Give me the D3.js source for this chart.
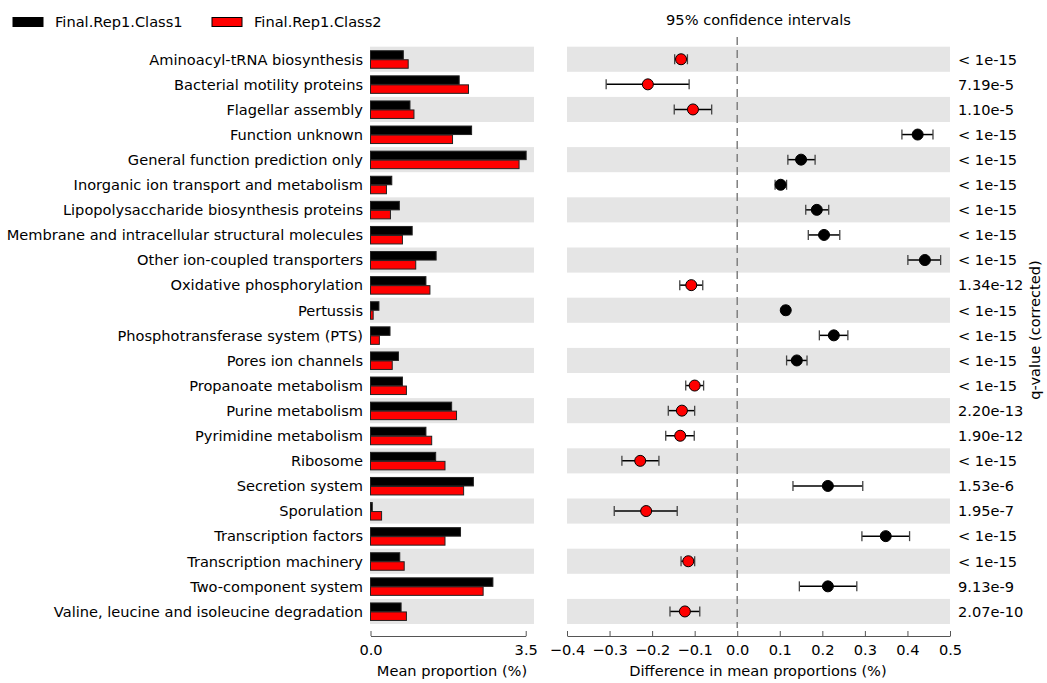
<!DOCTYPE html>
<html>
<head>
<meta charset="utf-8">
<script src="https://cdn.jsdelivr.net/npm/d3@7"></script>
<style>
  html, body { margin: 0; padding: 0; background: #fff; }
  svg { display: block; font-family: "DejaVu Sans", sans-serif; }
</style>
</head>
<body>
<svg id="chart" width="1047" height="683"></svg>
<script>
// Functional categories (rows, top to bottom)
const categories = [
  "Aminoacyl-tRNA biosynthesis",
  "Bacterial motility proteins",
  "Flagellar assembly",
  "Function unknown",
  "General function prediction only",
  "Inorganic ion transport and metabolism",
  "Lipopolysaccharide biosynthesis proteins",
  "Membrane and intracellular structural molecules",
  "Other ion-coupled transporters",
  "Oxidative phosphorylation",
  "Pertussis",
  "Phosphotransferase system (PTS)",
  "Pores ion channels",
  "Propanoate metabolism",
  "Purine metabolism",
  "Pyrimidine metabolism",
  "Ribosome",
  "Secretion system",
  "Sporulation",
  "Transcription factors",
  "Transcription machinery",
  "Two-component system",
  "Valine, leucine and isoleucine degradation"
];

// Mean proportion (%) per group
const class1Mean = [0.74, 2.00, 0.89, 2.28, 3.51, 0.48, 0.65, 0.94, 1.48, 1.25, 0.19, 0.44,
                    0.63, 0.72, 1.83, 1.25, 1.47, 2.32, 0.04, 2.03, 0.66, 2.76, 0.69];
const class2Mean = [0.85, 2.21, 0.98, 1.85, 3.35, 0.36, 0.45, 0.72, 1.02, 1.34, 0.06, 0.20,
                    0.49, 0.81, 1.94, 1.38, 1.68, 2.10, 0.25, 1.68, 0.76, 2.54, 0.81];

// Difference in mean proportions (%) with 95% confidence interval
const meanDiff = [-0.132, -0.210, -0.104, 0.424, 0.150, 0.102, 0.187, 0.204, 0.441, -0.108, 0.114, 0.227,
                  0.140, -0.100, -0.130, -0.134, -0.228, 0.213, -0.214, 0.349, -0.115, 0.213, -0.123];
const ciLower  = [-0.147, -0.308, -0.148, 0.387, 0.119, 0.089, 0.161, 0.167, 0.401, -0.135, 0.108, 0.193,
                  0.116, -0.121, -0.162, -0.168, -0.271, 0.131, -0.289, 0.293, -0.132, 0.146, -0.158];
const ciUpper  = [-0.117, -0.113, -0.060, 0.460, 0.183, 0.116, 0.215, 0.241, 0.478, -0.081, 0.121, 0.260,
                  0.164, -0.079, -0.100, -0.101, -0.184, 0.295, -0.141, 0.405, -0.100, 0.281, -0.088];

// Corrected q-values
const qValues = ["< 1e-15", "7.19e-5", "1.10e-5", "< 1e-15", "< 1e-15", "< 1e-15", "< 1e-15", "< 1e-15",
                 "< 1e-15", "1.34e-12", "< 1e-15", "< 1e-15", "< 1e-15", "< 1e-15", "2.20e-13", "1.90e-12",
                 "< 1e-15", "1.53e-6", "1.95e-7", "< 1e-15", "< 1e-15", "9.13e-9", "2.07e-10"];

const groupNames = ["Final.Rep1.Class1", "Final.Rep1.Class2"];
const propTicks = [0, 3.5];
const diffTicks = [-0.4, -0.3, -0.2, -0.1, 0.0, 0.1, 0.2, 0.3, 0.4, 0.5];

const svg = d3.select("#chart");
const FS = 14.6;
const colC1 = "#000000", colC2 = "#ff0000", band = "#e5e5e5";

const rows = categories.map((c, i) => ({
  name: c, c1: class1Mean[i], c2: class2Mean[i],
  diff: meanDiff[i], lo: ciLower[i], hi: ciUpper[i], q: qValues[i], i
}));

// Scales
const y = d3.scaleBand().domain(categories).range([46.7, 624]).padding(0);
const xProp = d3.scaleLinear().domain([0, 3.687]).range([370.5, 534]);
const xDiff = d3.scaleLinear().domain([-0.4, 0.5]).range([567, 950]);

// Alternating row shading
const shaded = rows.filter(d => d.i % 2 === 0);
svg.append("g").selectAll("rect").data(shaded).join("rect")
  .attr("x", xProp.range()[0] - 0.5).attr("width", xProp.range()[1] - xProp.range()[0] + 0.5)
  .attr("y", d => y(d.name)).attr("height", y.bandwidth())
  .attr("fill", band);
svg.append("g").selectAll("rect").data(shaded).join("rect")
  .attr("x", xDiff.range()[0]).attr("width", xDiff.range()[1] - xDiff.range()[0])
  .attr("y", d => y(d.name)).attr("height", y.bandwidth())
  .attr("fill", band);

// Mean proportion bars
const barH = 8.5;
const bars = svg.append("g");
bars.selectAll("rect.c1").data(rows).join("rect").attr("class", "c1")
  .attr("x", xProp(0)).attr("width", d => xProp(d.c1) - xProp(0))
  .attr("y", d => y(d.name) + y.bandwidth() / 2 - barH).attr("height", barH)
  .attr("fill", colC1).attr("stroke", "#222").attr("stroke-width", 1);
bars.selectAll("rect.c2").data(rows).join("rect").attr("class", "c2")
  .attr("x", xProp(0)).attr("width", d => xProp(d.c2) - xProp(0))
  .attr("y", d => y(d.name) + y.bandwidth() / 2 + 0.5).attr("height", barH)
  .attr("fill", colC2).attr("stroke", "#222").attr("stroke-width", 1);

// Category labels
svg.append("g").selectAll("text").data(rows).join("text")
  .attr("x", 363).attr("y", d => y(d.name) + y.bandwidth() / 2)
  .attr("dy", "0.36em").attr("text-anchor", "end")
  .attr("font-size", FS).attr("fill", "#000")
  .text(d => d.name);

// Zero reference line
svg.append("line")
  .attr("x1", xDiff(0)).attr("x2", xDiff(0))
  .attr("y1", 37).attr("y2", 628)
  .attr("stroke", "#808080").attr("stroke-width", 1.5)
  .attr("stroke-dasharray", "8,5");

// Confidence intervals
const ci = svg.append("g");
ci.selectAll("line.ci").data(rows).join("line").attr("class", "ci")
  .attr("x1", d => xDiff(d.lo)).attr("x2", d => xDiff(d.hi))
  .attr("y1", d => y(d.name) + y.bandwidth() / 2).attr("y2", d => y(d.name) + y.bandwidth() / 2)
  .attr("stroke", "#000").attr("stroke-width", 1.5);
["lo", "hi"].forEach(k => {
  ci.selectAll("line.cap-" + k).data(rows).join("line").attr("class", "cap-" + k)
    .attr("x1", d => xDiff(d[k])).attr("x2", d => xDiff(d[k]))
    .attr("y1", d => y(d.name) + y.bandwidth() / 2 - 5)
    .attr("y2", d => y(d.name) + y.bandwidth() / 2 + 5)
    .attr("stroke", "#444").attr("stroke-width", 1.3);
});
ci.selectAll("circle").data(rows).join("circle")
  .attr("cx", d => xDiff(d.diff)).attr("cy", d => y(d.name) + y.bandwidth() / 2)
  .attr("r", 5.5)
  .attr("fill", d => d.diff < 0 ? colC2 : colC1)
  .attr("stroke", "#000").attr("stroke-width", 1);

// q-values
svg.append("g").selectAll("text").data(rows).join("text")
  .attr("x", 958).attr("y", d => y(d.name) + y.bandwidth() / 2)
  .attr("dy", "0.36em").attr("font-size", FS).attr("fill", "#000")
  .text(d => d.q);

svg.append("text")
  .attr("transform", "translate(1040,330) rotate(-90)")
  .attr("text-anchor", "middle").attr("font-size", FS)
  .text("q-value (corrected)");

// Axes
function styleAxis(g) {
  g.select(".domain").attr("stroke", "#555").attr("stroke-width", 1);
  g.selectAll(".tick line").attr("stroke", "#555").attr("stroke-width", 1);
  g.selectAll(".tick text").attr("font-size", FS).attr("fill", "#000")
    .attr("font-family", "DejaVu Sans, sans-serif");
}
const axisY = 636;
const propAxisScale = xProp.copy().domain([0, 3.5]).range([xProp(0), xProp(3.5)]);
svg.append("g").attr("transform", `translate(0,${axisY})`)
  .call(d3.axisBottom(propAxisScale).tickValues(propTicks).tickFormat(d3.format(".1f"))
    .tickSizeInner(-5).tickSizeOuter(0).tickPadding(9))
  .call(styleAxis);
svg.append("g").attr("transform", `translate(0,${axisY})`)
  .call(d3.axisBottom(xDiff).tickValues(diffTicks).tickFormat(d3.format(".1f"))
    .tickSizeInner(-5).tickSizeOuter(0).tickPadding(9))
  .call(styleAxis);

svg.append("text").attr("x", 452).attr("y", 676)
  .attr("text-anchor", "middle").attr("font-size", FS).text("Mean proportion (%)");
svg.append("text").attr("x", 758).attr("y", 676)
  .attr("text-anchor", "middle").attr("font-size", FS).text("Difference in mean proportions (%)");

// Title for CI panel
svg.append("text").attr("x", 758.5).attr("y", 25)
  .attr("text-anchor", "middle").attr("font-size", FS).text("95% confidence intervals");

// Legend
const legend = svg.append("g");
const legendX = [13, 212];
groupNames.forEach((g, i) => {
  legend.append("rect").attr("x", legendX[i]).attr("y", 17.5).attr("width", 30).attr("height", 9)
    .attr("fill", i === 0 ? colC1 : colC2).attr("stroke", "#000").attr("stroke-width", 1);
  legend.append("text").attr("x", legendX[i] + 42).attr("y", 26.5)
    .attr("font-size", FS).text(g);
});
</script>
</body>
</html>
